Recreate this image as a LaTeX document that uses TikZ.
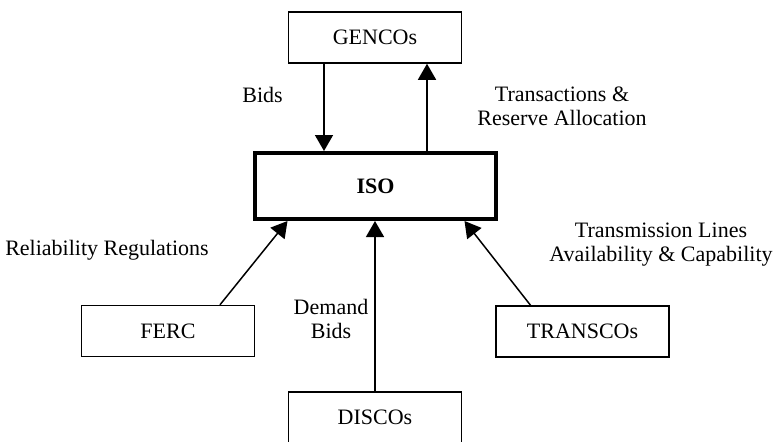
\documentclass[tikz,border=0pt]{standalone}
\usepackage{fontspec}
\setmainfont{Liberation Serif}
\usepackage{tikz}
\usetikzlibrary{arrows.meta,calc,positioning}

\begin{document}
\begin{tikzpicture}[
  x=0.5pt, y=-0.5pt,
  font=\fontsize{11}{12}\selectfont,
  party/.style={draw, line width=0.75pt, minimum width=86.5pt, minimum height=25.5pt, inner sep=0pt},
  market/.style={draw, line width=2pt, minimum width=120.5pt, minimum height=33pt, inner sep=0pt, font=\fontsize{11}{12}\selectfont\bfseries},
  flow/.style={-{Triangle[length=8pt,width=9pt]}, line width=0.75pt},
  lbl/.style={align=center, inner sep=0pt}
]
\useasboundingbox (0,0) rectangle (774,441);
\node[party] (gencos) at (375,37.5) {GENCOs};
\node[market] (iso) at (375.5,186) {ISO};
\node[party] (ferc) at (168,331) {FERC};
\node[party] (transcos) at (582.5,331.5) {TRANSCOs};
\node[party] (discos) at (375,417.5) {DISCOs};

\draw[flow] ([xshift=-25.5pt]gencos.south) -- ([xshift=-25.5pt]gencos.south |- iso.north);
\draw[flow] ([xshift=26pt]gencos.south |- iso.north) -- ([xshift=26pt]gencos.south);
\draw[flow] ([xshift=26pt]ferc.north) -- ([xshift=-44pt]iso.south);
\draw[flow] ([xshift=-26pt]transcos.north) -- ([xshift=44.5pt]iso.south);
\draw[flow] (discos.north) -- (discos.north |- iso.south);

\node[lbl] (bids) at (262.5,95) {Bids};
\node[lbl] (trans) at (562,106) {Transactions \&\\Reserve Allocation};
\node[lbl] (rel) at (107,250) {Reliability Regulations};
\node[lbl] (dem) at (331,319) {Demand\\Bids};
\node[lbl] (lines) at (661,245) {Transmission Lines\\Availability \& Capability};
\end{tikzpicture}
\end{document}
